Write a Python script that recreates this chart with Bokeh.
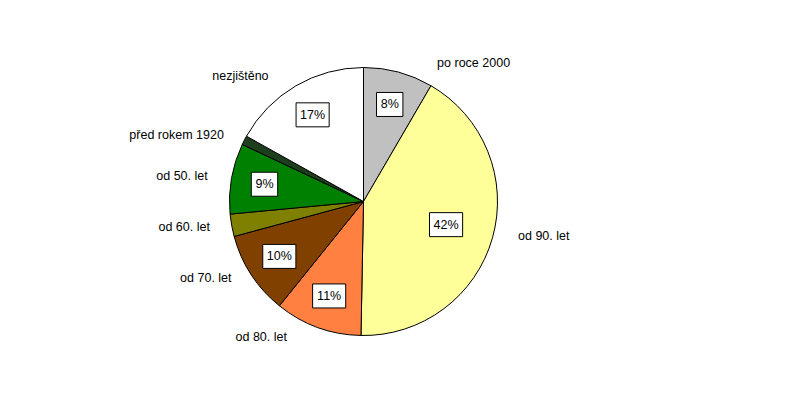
import numpy as np

from bokeh.core.properties import value
from bokeh.embed import file_html
from bokeh.models import ColumnDataSource, Range1d
from bokeh.plotting import figure
from bokeh.resources import INLINE

# slices, clockwise from 12 o'clock
categories = ["po roce 2000", "od 90. let", "od 80. let", "od 70. let",
              "od 60. let", "od 50. let", "před rokem 1920", "nezjištěno"]
shares = [8.4, 41.9, 10.5, 10.0, 2.7, 8.5, 1.1, 16.9]
pct_labels = ["8%", "42%", "11%", "10%", "", "9%", "", "17%"]
colors = ["#C0C0C0", "#FFFF99", "#FF8040", "#804000",
          "#808000", "#008000", "#1E3F1E", "#FFFFFF"]

# hand nudges (px, right / down) for the category names, as in the original
name_nudge = [(35, 4), (12, -5), (-26, -4), (-8, -4),
              (-8, -1), (-10, 0), (-8, 1), (-20, 2)]

W, H = 773, 385
FONT = value("Liberation Sans")

p = figure(width=W, height=H,
           x_range=Range1d(0, W), y_range=Range1d(-H, 0),
           x_axis_location=None, y_axis_location=None,
           output_backend="svg", toolbar_location=None, min_border=0)
p.grid.visible = False
p.outline_line_color = None

cx, cy, R = 363, -201, 134

frac = np.array(shares) / np.sum(shares)
theta_end = np.cumsum(frac) * 2 * np.pi
theta_start = theta_end - frac * 2 * np.pi
theta_mid = (theta_start + theta_end) / 2

src = ColumnDataSource(dict(
    start=np.pi / 2 - theta_start,
    end=np.pi / 2 - theta_end,
    color=colors,
))
p.wedge(x=cx, y=cy, radius=R, start_angle="start", end_angle="end",
        direction="clock", fill_color="color", line_color="black",
        line_width=1, source=src)

# percentage boxes inside the slices
lx, ly, lt, bw = [], [], [], []
for f, m, t in zip(frac, theta_mid, pct_labels):
    if not t:
        continue
    r = 0.64 * R if f > 0.3 else 0.75 * R
    lx.append(cx + r * np.sin(m))
    ly.append(cy + r * np.cos(m))
    lt.append(t)
    bw.append(6.7 * (len(t) - 1) + 10.7 + 9)

p.rect(x=lx, y=ly, width=bw, height=24, fill_color="white",
       line_color="black", line_width=1)
p.text(x=lx, y=ly, text=lt, text_align="center", text_baseline="middle",
       text_font=FONT, text_font_size="12.5px", text_color="black")

# category names outside the pie
for name, m, (dx, dy) in zip(categories, theta_mid, name_nudge):
    ax = cx + (R + 14) * np.sin(m) + dx
    ay = cy + (R + 14) * np.cos(m) - dy
    p.text(x=[ax], y=[ay], text=[name],
           text_align="left" if np.sin(m) > 0 else "right",
           text_baseline="middle", text_font=FONT,
           text_font_size="12.5px", text_color="black")

open("out.html", "w").write(file_html(p, INLINE))
